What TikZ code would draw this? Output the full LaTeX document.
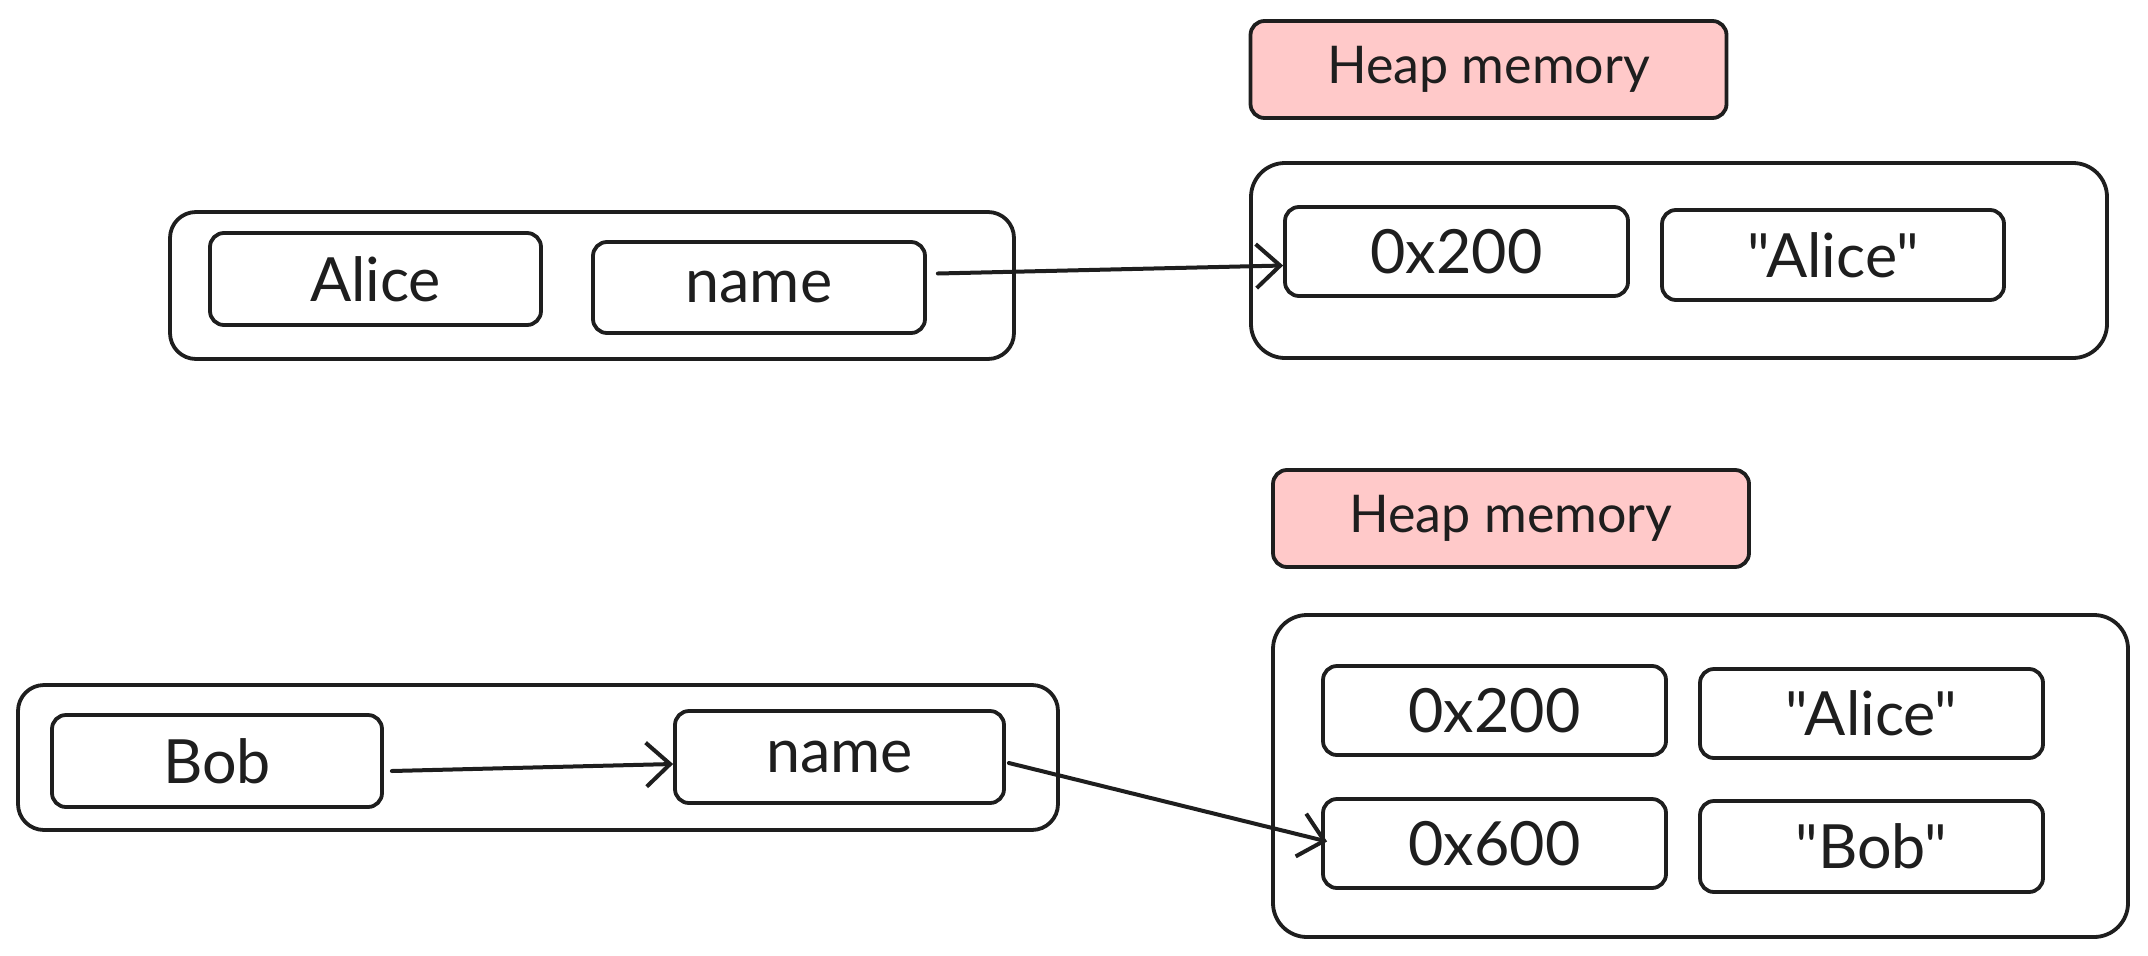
\documentclass[tikz,border=0pt]{standalone}
\usepackage{fontspec}
\newfontfamily\labelfont{Lato}
\usetikzlibrary{arrows.meta}
\definecolor{ink}{HTML}{1E1E1E}
\definecolor{heappink}{HTML}{FFC9C9}
\tikzset{
  cell/.style={draw=ink, line width=3.8pt, rounded corners=14pt, inner sep=0pt,
    font=\labelfont\fontsize{61}{66}\selectfont, text=ink},
  frame/.style={draw=ink, line width=3.8pt, rounded corners=34pt, inner sep=0pt},
  heaplabel/.style={draw=ink, fill=heappink, line width=3.8pt, rounded corners=14pt,
    inner sep=0pt, minimum width=476pt, minimum height=97pt,
    font=\labelfont\fontsize{52}{58}\selectfont, text=ink},
  ptr/.style={draw=ink, line width=4pt, line cap=round,
    -{Straight Barb[length=24pt,width=44pt,line width=4pt]}},
}
\begin{document}
\begin{tikzpicture}[x=1pt,y=-1pt]
\useasboundingbox (0,0) rectangle (2148,956);
% ---------- top ----------
\node[heaplabel] (heap1) at (1488.5,69.5) {Heap memory};
\node[frame, minimum width=856pt, minimum height=195pt] (cont1) at (1679,260.5) {};
\node[cell, minimum width=343pt, minimum height=89pt] (a200) at (1456.5,251.5) {0x200};
\node[cell, minimum width=342pt, minimum height=90pt] (aalice) at (1833,255) {"Alice"};
\node[frame, rounded corners=26pt, minimum width=844pt, minimum height=147pt] (aliceouter) at (592,285.5) {};
\node[cell, minimum width=331pt, minimum height=92pt] (alicein) at (375.5,279) {Alice};
\node[cell, minimum width=332pt, minimum height=91pt] (name1) at (759,287.5) {name};
\draw[ptr] ([xshift=11pt,yshift=14pt]name1.east) -- ([yshift=-14pt]a200.west);
% ---------- bottom ----------
\node[heaplabel] (heap2) at (1511,518.5) {Heap memory};
\node[frame, minimum width=855pt, minimum height=322pt] (cont2) at (1700.5,776) {};
\node[cell, minimum width=343pt, minimum height=89pt] (b200) at (1494.5,710.5) {0x200};
\node[cell, minimum width=343pt, minimum height=89pt] (balice) at (1871.5,713.5) {"Alice"};
\node[cell, minimum width=343pt, minimum height=89pt] (b600) at (1494.5,843.5) {0x600};
\node[cell, minimum width=343pt, minimum height=91pt] (bbob) at (1871.5,846.5) {"Bob"};
\node[frame, rounded corners=26pt, minimum width=1040pt, minimum height=145pt] (bobouter) at (538,757.5) {};
\node[cell, minimum width=330pt, minimum height=92pt] (bobin) at (217,761) {Bob};
\node[cell, minimum width=329pt, minimum height=92pt] (name2) at (839.5,757) {name};
\draw[ptr] ([xshift=8pt,yshift=-10pt]bobin.east) -- ([yshift=-7pt]name2.west);
\draw[ptr] ([xshift=3pt,yshift=-6pt]name2.east) -- ([xshift=6pt,yshift=2pt]b600.west);
\end{tikzpicture}
\end{document}
